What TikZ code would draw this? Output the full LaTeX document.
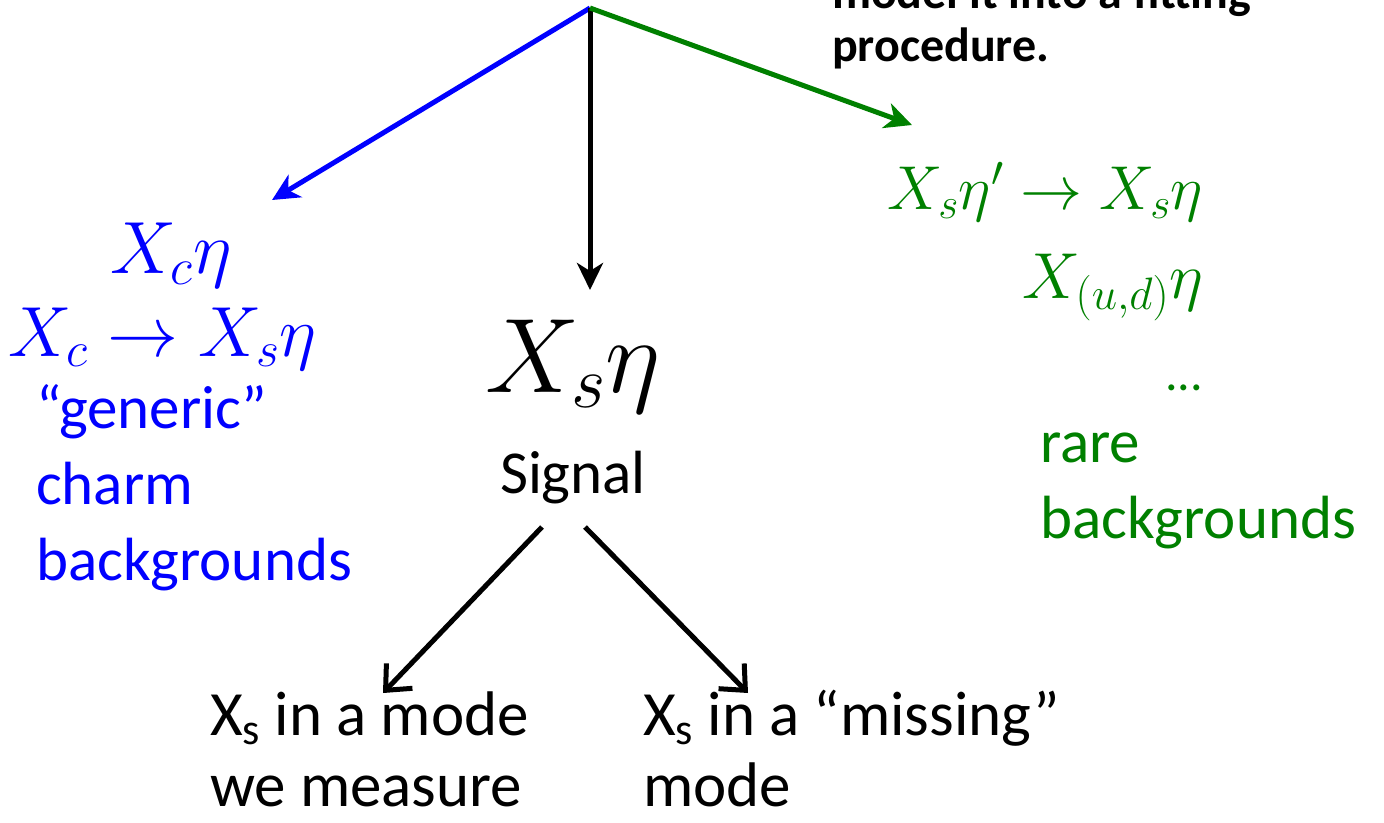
\RequirePackage{fix-cm}
\documentclass[tikz,border=0pt]{standalone}
\usepackage[no-math]{fontspec}
\setmainfont{Carlito}
\usetikzlibrary{arrows.meta}
\definecolor{myblue}{RGB}{0,0,255}
\definecolor{mygreen}{RGB}{0,128,0}
\tikzset{
  lbl/.style={inner sep=0pt, outer sep=0pt},
  txt/.style={lbl, font=\fontsize{61}{76}\selectfont, align=left},
  bottxt/.style={lbl, font=\fontsize{63}{71}\selectfont, align=left},
  mth/.style={lbl, font=\fontsize{71}{80}\selectfont},
  gmth/.style={lbl, font=\fontsize{62}{74}\selectfont},
  bigmth/.style={lbl, font=\fontsize{106}{120}\selectfont},
  toparrow/.style={line width=5pt, -{Stealth[length=27pt,width=26pt,inset=8pt]}},
  botarrow/.style={line width=5pt, -{Straight Barb[length=20pt,width=36pt,line width=5pt]}},
}
\begin{document}
\begin{tikzpicture}[x=1pt,y=-1pt]
\useasboundingbox (0,0) rectangle (1384,822);
% top (partly cut) text
\node[lbl, font=\fontsize{48}{53}\selectfont\bfseries, align=left, anchor=base west] (note) at (832,61)
  {model it into a fitting\\procedure.};
% coordinates
\coordinate (top) at (590,8);
\coordinate (bluetip) at (272,200);
\coordinate (blacktip) at (590,290);
\coordinate (greentip) at (912,125);
\coordinate (sl) at (542,527);
\coordinate (sr) at (585,527);
\coordinate (ltip) at (383,693);
\coordinate (rtip) at (748,693);
% blue block
\node[lbl, font=\fontsize{74}{80}\selectfont, text=myblue, anchor=base] (xceta) at (171,273) {$X_c\eta$};
\node[mth, text=myblue, anchor=base west] (xcdec) at (9,356) {$X_c\to X_s\eta$};
\node[txt, text=myblue, anchor=base west] (charm) at (36,580) {“generic”\\charm\\backgrounds};
% centre
\node[bigmth, anchor=base] (sig) at (573,392) {$X_s\eta$};
\node[lbl, font=\fontsize{61}{76}\selectfont, anchor=base] (signal) at (573,493) {Signal};
% green block
\node[gmth, text=mygreen, anchor=base east] (xsep) at (1203,209) {$X_s\eta'\to X_s\eta$};
\node[lbl, font=\fontsize{65}{74}\selectfont, text=mygreen, anchor=base east] (xud) at (1203,298) {$X_{(u,d)}\eta$};
\node[lbl, text=mygreen, font=\fontsize{50}{60}\selectfont, anchor=base east] (dots) at (1203,390) {...};
\node[txt, text=mygreen, anchor=base west] (rare) at (1040,538) {rare\\backgrounds};
% bottom
\node[bottxt, anchor=base west] (meas) at (210,806) {X\textsubscript{s} in a mode\\we measure};
\node[bottxt, anchor=base west] (miss) at (643,806) {X\textsubscript{s} in a “missing”\\mode};
% arrows
\draw[toparrow, myblue] (top) -- (bluetip);
\draw[toparrow, black] (top) -- (blacktip);
\draw[toparrow, mygreen] (top) -- (greentip);
\draw[botarrow] (sl) -- (ltip);
\draw[botarrow] (sr) -- (rtip);
\end{tikzpicture}
\end{document}
